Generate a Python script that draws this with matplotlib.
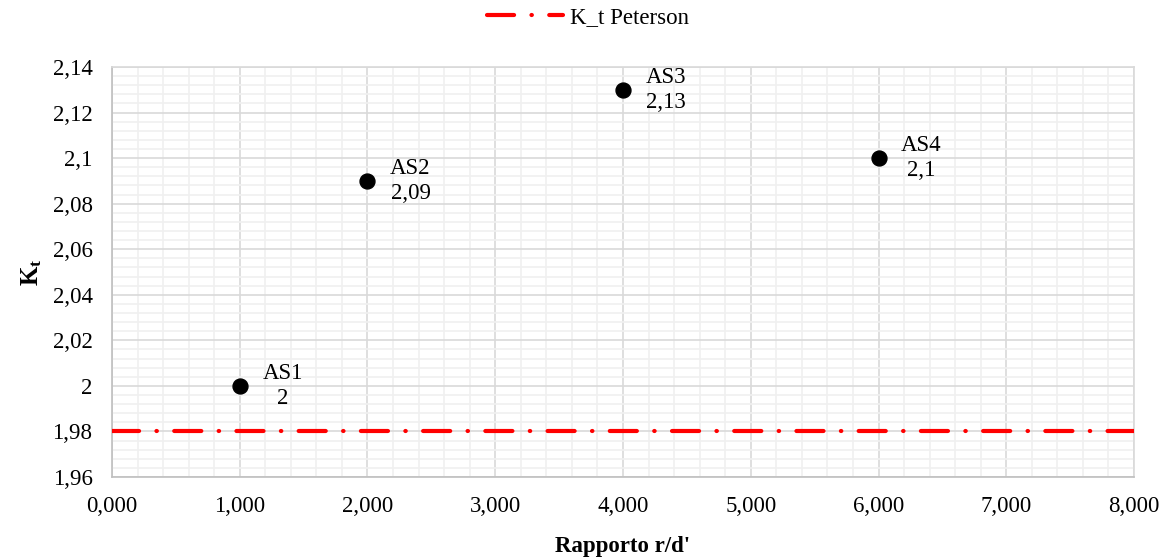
import matplotlib
matplotlib.use("Agg")
import matplotlib.pyplot as plt
from matplotlib.ticker import MultipleLocator, FuncFormatter

# Data
names = ["AS1", "AS2", "AS3", "AS4"]
ratio = [1.0, 2.0, 4.0, 6.0]
kt = [2.00, 2.09, 2.13, 2.10]
kt_peterson = 1.98
x_range = [0.0, 8.0]

plt.rcParams["font.family"] = ["Liberation Serif", "DejaVu Serif"]
plt.rcParams["mathtext.fontset"] = "custom"
plt.rcParams["mathtext.rm"] = "Liberation Serif"
plt.rcParams["mathtext.bf"] = "Liberation Serif:bold"
plt.rcParams["mathtext.it"] = "Liberation Serif:italic"
plt.rcParams["lines.scale_dashes"] = False

FS = 16.5

fig = plt.figure(figsize=(11.76, 5.57), dpi=100)
ax = fig.add_axes([0.0952, 0.1436, 0.8691, 0.7361])

# Reference line
ax.plot(x_range, [kt_peterson, kt_peterson], color="#ff0000", lw=3,
        dashes=(19.5, 12.5, 0.3, 12.5), dash_capstyle="round",
        label="K_t Peterson", zorder=3)

# Points with labels
ax.scatter(ratio, kt, s=115, color="black", zorder=4)
for n, x, y in zip(names, ratio, kt):
    val = f"{y:g}".replace(".", ",")
    ax.annotate(f"{n}\n{val}", (x, y), xytext=(31, 0), textcoords="offset points",
                ha="center", va="center", multialignment="center",
                fontsize=FS, linespacing=1.22)

ax.set_xlim(0, 8)
ax.set_ylim(1.96, 2.14)
ax.xaxis.set_major_locator(MultipleLocator(1))
ax.xaxis.set_minor_locator(MultipleLocator(0.2))
ax.yaxis.set_major_locator(MultipleLocator(0.02))
ax.yaxis.set_minor_locator(MultipleLocator(0.004))
ax.xaxis.set_major_formatter(FuncFormatter(lambda v, p: f"{v:.3f}".replace(".", ",")))
ax.yaxis.set_major_formatter(FuncFormatter(lambda v, p: f"{round(v, 3):g}".replace(".", ",")))

ax.grid(which="major", color="#d9d9d9", lw=1.2, zorder=1)
ax.grid(which="minor", color="#f0f0f0", lw=1.2, zorder=0)
ax.set_axisbelow(True)
ax.tick_params(which="both", length=0, labelsize=FS)
ax.tick_params(axis="y", pad=14)
ax.tick_params(axis="x", pad=14)
for s in ax.spines.values():
    s.set_color("#d9d9d9")
    s.set_linewidth(1.2)
ax.spines["left"].set_color("#bfbfbf")
ax.spines["bottom"].set_color("#bfbfbf")

ax.set_xlabel("Rapporto r/d'", fontsize=FS, fontweight="bold", labelpad=13)
ax.set_ylabel(r"$\mathbf{K_t}$", fontsize=18, labelpad=6)

fig.legend(loc="upper center", bbox_to_anchor=(0.5, 1.025), frameon=False,
           fontsize=FS, handlelength=3.3, handletextpad=0.3)

fig.savefig("out.png", dpi=100)
